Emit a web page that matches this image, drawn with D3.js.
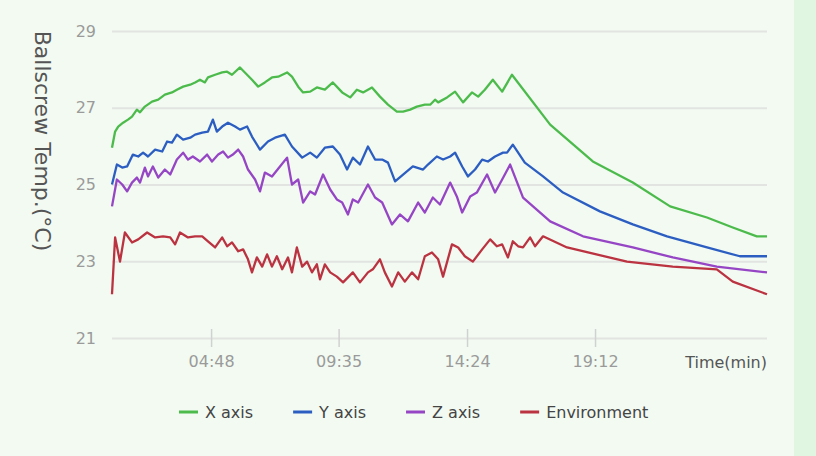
<!DOCTYPE html>
<html>
<head>
<meta charset="utf-8">
<script src="https://cdn.jsdelivr.net/npm/d3@7"></script>
<style>
  html, body { margin: 0; padding: 0; background: #f2faf2; }
  svg { display: block; }
  text { font-family: "DejaVu Sans", Verdana, sans-serif; }
</style>
</head>
<body>
<script>
// time in seconds, temperature in °C
const xAxisTemp = [
    [65, 25.96], [72, 26.38], [79, 26.51], [90, 26.61], [101, 26.69], [110, 26.77], [121, 26.95],
    [128, 26.88], [139, 27.03], [155, 27.16], [169, 27.21], [184, 27.34], [200, 27.40], [211, 27.47],
    [225, 27.55], [241, 27.60], [252, 27.66], [263, 27.73], [274, 27.66], [281, 27.79], [297, 27.86],
    [313, 27.92], [324, 27.94], [335, 27.86], [353, 28.05], [364, 27.92], [380, 27.73], [394, 27.55],
    [409, 27.66], [425, 27.79], [439, 27.81], [459, 27.92], [470, 27.81], [484, 27.55], [495, 27.40],
    [511, 27.42], [526, 27.53], [544, 27.47], [562, 27.66], [583, 27.40], [601, 27.27], [616, 27.47],
    [630, 27.40], [650, 27.53], [668, 27.29], [686, 27.08], [706, 26.90], [720, 26.90], [736, 26.95],
    [751, 27.03], [769, 27.08], [781, 27.08], [792, 27.21], [799, 27.14], [819, 27.27], [837, 27.42],
    [855, 27.14], [875, 27.40], [889, 27.29], [904, 27.47], [922, 27.73], [943, 27.42], [965, 27.86],
    [1051, 26.56], [1147, 25.60], [1237, 25.05], [1321, 24.43], [1404, 24.14], [1462, 23.88],
    [1516, 23.65], [1539, 23.65]
];

const yAxisTemp = [
    [65, 25.00], [76, 25.52], [88, 25.44], [99, 25.47], [112, 25.78], [124, 25.73], [135, 25.83],
    [146, 25.73], [162, 25.91], [178, 25.86], [189, 26.12], [200, 26.09], [211, 26.30], [225, 26.17],
    [241, 26.22], [252, 26.30], [268, 26.35], [281, 26.38], [292, 26.69], [301, 26.38], [313, 26.51],
    [326, 26.61], [342, 26.51], [353, 26.43], [369, 26.51], [380, 26.25], [398, 25.91], [416, 26.12],
    [432, 26.22], [454, 26.30], [470, 25.99], [493, 25.70], [511, 25.83], [526, 25.70], [544, 25.96],
    [562, 25.99], [578, 25.78], [594, 25.39], [607, 25.70], [623, 25.52], [641, 25.99], [657, 25.65],
    [673, 25.65], [686, 25.57], [702, 25.08], [720, 25.26], [742, 25.47], [765, 25.39], [776, 25.52],
    [796, 25.73], [810, 25.65], [826, 25.73], [837, 25.83], [853, 25.47], [866, 25.21], [882, 25.39],
    [898, 25.65], [911, 25.60], [927, 25.73], [945, 25.83], [954, 25.83], [967, 26.04], [994, 25.57],
    [1035, 25.21], [1080, 24.79], [1163, 24.30], [1237, 23.96], [1314, 23.65], [1404, 23.36],
    [1478, 23.13], [1539, 23.13]
];

const zAxisTemp = [
    [65, 24.43], [76, 25.13], [88, 25.00], [99, 24.82], [110, 25.05], [121, 25.18], [128, 25.05],
    [139, 25.44], [146, 25.21], [157, 25.47], [169, 25.18], [184, 25.39], [196, 25.26], [211, 25.65],
    [225, 25.83], [236, 25.65], [247, 25.73], [263, 25.60], [279, 25.78], [290, 25.60], [304, 25.78],
    [315, 25.86], [326, 25.70], [337, 25.78], [349, 25.91], [360, 25.73], [371, 25.39], [387, 25.13],
    [398, 24.82], [409, 25.31], [425, 25.21], [443, 25.47], [459, 25.70], [470, 25.00], [484, 25.13],
    [495, 24.53], [511, 24.82], [522, 24.74], [540, 25.26], [556, 24.87], [571, 24.61], [583, 24.53],
    [596, 24.22], [607, 24.61], [619, 24.53], [641, 25.00], [657, 24.66], [673, 24.53], [695, 23.96],
    [713, 24.22], [731, 24.04], [754, 24.53], [769, 24.27], [787, 24.66], [803, 24.48], [826, 25.05],
    [841, 24.69], [853, 24.27], [871, 24.69], [886, 24.79], [909, 25.26], [927, 24.79], [943, 25.13],
    [961, 25.52], [990, 24.66], [1051, 24.04], [1125, 23.65], [1237, 23.36], [1327, 23.10],
    [1426, 22.86], [1539, 22.71]
];

const environmentTemp = [
    [65, 22.14], [72, 23.62], [83, 22.99], [94, 23.75], [110, 23.49], [124, 23.57], [144, 23.75],
    [162, 23.62], [180, 23.65], [196, 23.62], [207, 23.44], [218, 23.75], [236, 23.62], [252, 23.65],
    [268, 23.65], [281, 23.52], [297, 23.36], [313, 23.62], [324, 23.39], [335, 23.49], [349, 23.26],
    [360, 23.31], [371, 23.05], [380, 22.71], [391, 23.10], [403, 22.86], [414, 23.18], [425, 22.86],
    [436, 23.13], [448, 22.79], [461, 23.10], [470, 22.71], [481, 23.36], [493, 22.86], [504, 22.99],
    [515, 22.71], [526, 22.92], [533, 22.53], [544, 22.92], [556, 22.71], [571, 22.60], [585, 22.45],
    [607, 22.71], [623, 22.45], [641, 22.71], [652, 22.79], [668, 23.05], [679, 22.71], [695, 22.34],
    [709, 22.71], [724, 22.47], [740, 22.71], [754, 22.53], [769, 23.13], [785, 23.23], [799, 23.05],
    [810, 22.60], [830, 23.44], [844, 23.36], [859, 23.13], [877, 22.99], [898, 23.31], [916, 23.57],
    [931, 23.39], [943, 23.44], [956, 23.10], [967, 23.52], [979, 23.39], [990, 23.36], [1006, 23.62],
    [1017, 23.39], [1035, 23.65], [1089, 23.36], [1224, 22.99], [1327, 22.86], [1426, 22.79],
    [1462, 22.47], [1539, 22.14]
];

const seriesNames = ["X axis", "Y axis", "Z axis", "Environment"];
const seriesColors = ["#4cbb4c", "#2c5ec2", "#9646c4", "#bb3340"];
const seriesData = [xAxisTemp, yAxisTemp, zAxisTemp, environmentTemp];

const yTicks = [21, 23, 25, 27, 29];
const xTickTimes = [288, 575, 864, 1152];
const xTickLabels = ["04:48", "09:35", "14:24", "19:12"];

const yTitle = "Ballscrew Temp.(°C)";
const xTitle = "Time(min)";

// Set the dimensions and margins of the diagram
const W = 816, H = 456;
const margin = {top: 31, right: 49, bottom: 118, left: 112};
const width = W - margin.left - margin.right;
const height = H - margin.top - margin.bottom;

const svg = d3.select("body")
    .append("svg")
    .attr("width", W)
    .attr("height", H);

// light green strip on the right edge
svg.append("rect")
    .attr("x", 794).attr("y", 0)
    .attr("width", W - 794).attr("height", H)
    .attr("fill", "#e1f6e1");

const g = svg.append("g")
    .attr("transform", `translate(${margin.left}, ${margin.top})`);

const allTimes = seriesData.flat().map(d => d[0]);
const x = d3.scaleLinear().domain(d3.extent(allTimes)).range([0, width]);
const y = d3.scaleLinear().domain([21, 29]).range([height, 0]);

// y axis with gridlines
const yAxis = g.append("g")
    .call(d3.axisLeft(y).tickValues(yTicks).tickSize(-width).tickPadding(16).tickFormat(d3.format("d")));
yAxis.select(".domain").remove();
yAxis.selectAll(".tick line").attr("stroke", "#e2e4e2").attr("stroke-width", 2);
yAxis.selectAll(".tick text")
    .attr("fill", "#9a9a9a")
    .style("font-size", "16px")
    .style("font-family", "'DejaVu Sans', Verdana, sans-serif");

// x axis ticks straddle the baseline
const xAxis = g.append("g")
    .attr("transform", `translate(0, ${height - 9})`)
    .call(d3.axisBottom(x).tickValues(xTickTimes).tickSize(18).tickPadding(9)
        .tickFormat((d, i) => xTickLabels[i]));
xAxis.select(".domain").remove();
xAxis.selectAll(".tick line").attr("stroke", "#cfd2cf").attr("stroke-width", 1.5);
xAxis.selectAll(".tick text")
    .attr("fill", "#9a9a9a")
    .style("font-size", "16px")
    .style("font-family", "'DejaVu Sans', Verdana, sans-serif");

g.append("text")
    .attr("x", width)
    .attr("y", height + 30)
    .attr("text-anchor", "end")
    .attr("fill", "#555")
    .style("font-size", "16px")
    .text(xTitle);

svg.append("text")
    .attr("transform", `translate(35, ${margin.top + 110}) rotate(90)`)
    .attr("text-anchor", "middle")
    .attr("fill", "#555")
    .style("font-size", "22px")
    .text(yTitle);

// the lines
const line = d3.line()
    .x(d => x(d[0]))
    .y(d => y(d[1]));

g.selectAll(".series")
    .data(seriesData)
    .join("path")
    .attr("class", "series")
    .attr("fill", "none")
    .attr("stroke", (d, i) => seriesColors[i])
    .attr("stroke-width", 2.3)
    .attr("stroke-linejoin", "round")
    .attr("d", line);

// legend
const legend = svg.append("g").attr("transform", "translate(179, 412)");
let lx = 0;
seriesNames.forEach((name, i) => {
    const item = legend.append("g").attr("transform", `translate(${lx}, 0)`);
    item.append("line")
        .attr("x1", 0).attr("x2", 19)
        .attr("stroke", seriesColors[i])
        .attr("stroke-width", 3);
    const t = item.append("text")
        .attr("x", 26)
        .attr("dy", "0.35em")
        .attr("fill", "#444")
        .style("font-size", "16px")
        .text(name);
    lx += 26 + t.node().getComputedTextLength() + 40;
});
</script>
</body>
</html>
